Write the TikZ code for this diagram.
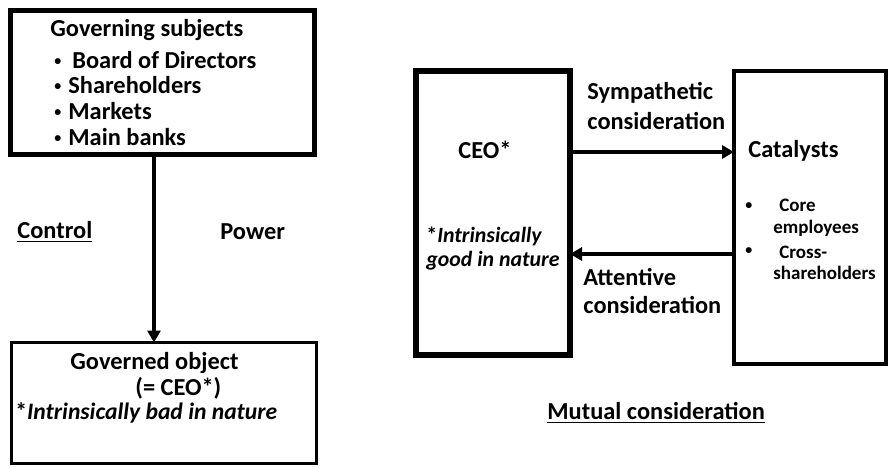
\documentclass[tikz,border=0pt]{standalone}
\usepackage{fontspec}
\setmainfont{Carlito}
\usetikzlibrary{arrows.meta}

\newcommand\smalldot{{\fontsize{7}{7}\selectfont\textbullet}}

\begin{document}
\begin{tikzpicture}[x=0.5pt,y=-0.5pt,
  font=\fontsize{12.2}{14}\selectfont\bfseries,
  box/.style={draw, rectangle, inner sep=0pt, outer sep=0pt},
  lbl/.style={anchor=west, inner sep=0pt},
  small/.style={lbl, font=\fontsize{9.5}{11}\selectfont\bfseries},
  arr/.style={line width=1.75pt, -{Triangle[width=6.5pt,length=6pt]}}]

\useasboundingbox (0,0) rectangle (888,466);

% Draw the boxes
\node[box, line width=2.5pt, minimum width=152pt, minimum height=72pt] (gov) at (162.5,82.5) {};
\node[box, line width=1.5pt, minimum width=152.25pt, minimum height=60.5pt] (obj) at (163.75,403) {};
\node[box, line width=2.75pt, minimum width=77pt, minimum height=142pt] (ceo) at (493,213) {};
\node[box, line width=2pt, minimum width=76pt, minimum height=146.5pt] (cat) at (810,217.5) {};

% Governing subjects
\node[lbl] (govt) at (50,30) {Governing subjects};
\foreach \y/\x/\t/\n in {60/72/Board of Directors/b1, 85/68/Shareholders/b2, 111/68/Markets/b3, 137/68/Main banks/b4} {
  \node[lbl] (d\n) at (54,\y+2) {\smalldot};
  \node[lbl] (\n) at (\x,\y) {\t};
}

% Governed object
\node[lbl] (objt) at (70,363) {Governed object};
\node[lbl] (objc) at (135,388) {(= CEO*)};
\node[lbl, font=\fontsize{11.8}{14}\selectfont\bfseries] (objn) at (15,413) {*\textit{Intrinsically bad in nature}};

% Control and power
\draw[arr] ([xshift=-4.25pt]gov.south) -- ([xshift=-4.25pt]gov.south |- obj.north);
\node[lbl] (ctrl) at (17,232) {\underline{Control}};
\node[lbl] (pow) at (220,232) {Power};

% CEO
\node[lbl] (ceot) at (458,150) {CEO*};
\node[lbl, font=\fontsize{10.9}{13}\selectfont\bfseries] (ceon1) at (426,236) {*\textit{Intrinsically}};
\node[lbl, font=\fontsize{10.9}{13}\selectfont\bfseries] (ceon2) at (426,261) {\textit{good in nature}};

% Catalysts
\node[lbl] (catt) at (748,151) {Catalysts};
\node[small] (d1) at (745,206) {\smalldot};
\node[small] (c1) at (779,205) {Core};
\node[small] (c1b) at (773,228) {employees};
\node[small] (d2) at (745,251) {\smalldot};
\node[small] (c2) at (779,252) {Cross-};
\node[small] (c2b) at (773,273) {shareholders};

% Mutual consideration
\draw[arr] ([yshift=30.5pt]ceo.east) -- ([yshift=30.5pt]ceo.east -| cat.west);
\draw[arr] ([yshift=-20.5pt]ceo.east -| cat.west) -- ([yshift=-20.5pt]ceo.east);
\node[lbl] (sym1) at (587,93) {Sympathetic};
\node[lbl] (sym2) at (587,121) {consideration};
\node[lbl] (att1) at (583,277) {Attentive};
\node[lbl] (att2) at (583,305) {consideration};
\node[lbl] (mut) at (547,413) {\underline{Mutual consideration}};

\end{tikzpicture}
\end{document}
